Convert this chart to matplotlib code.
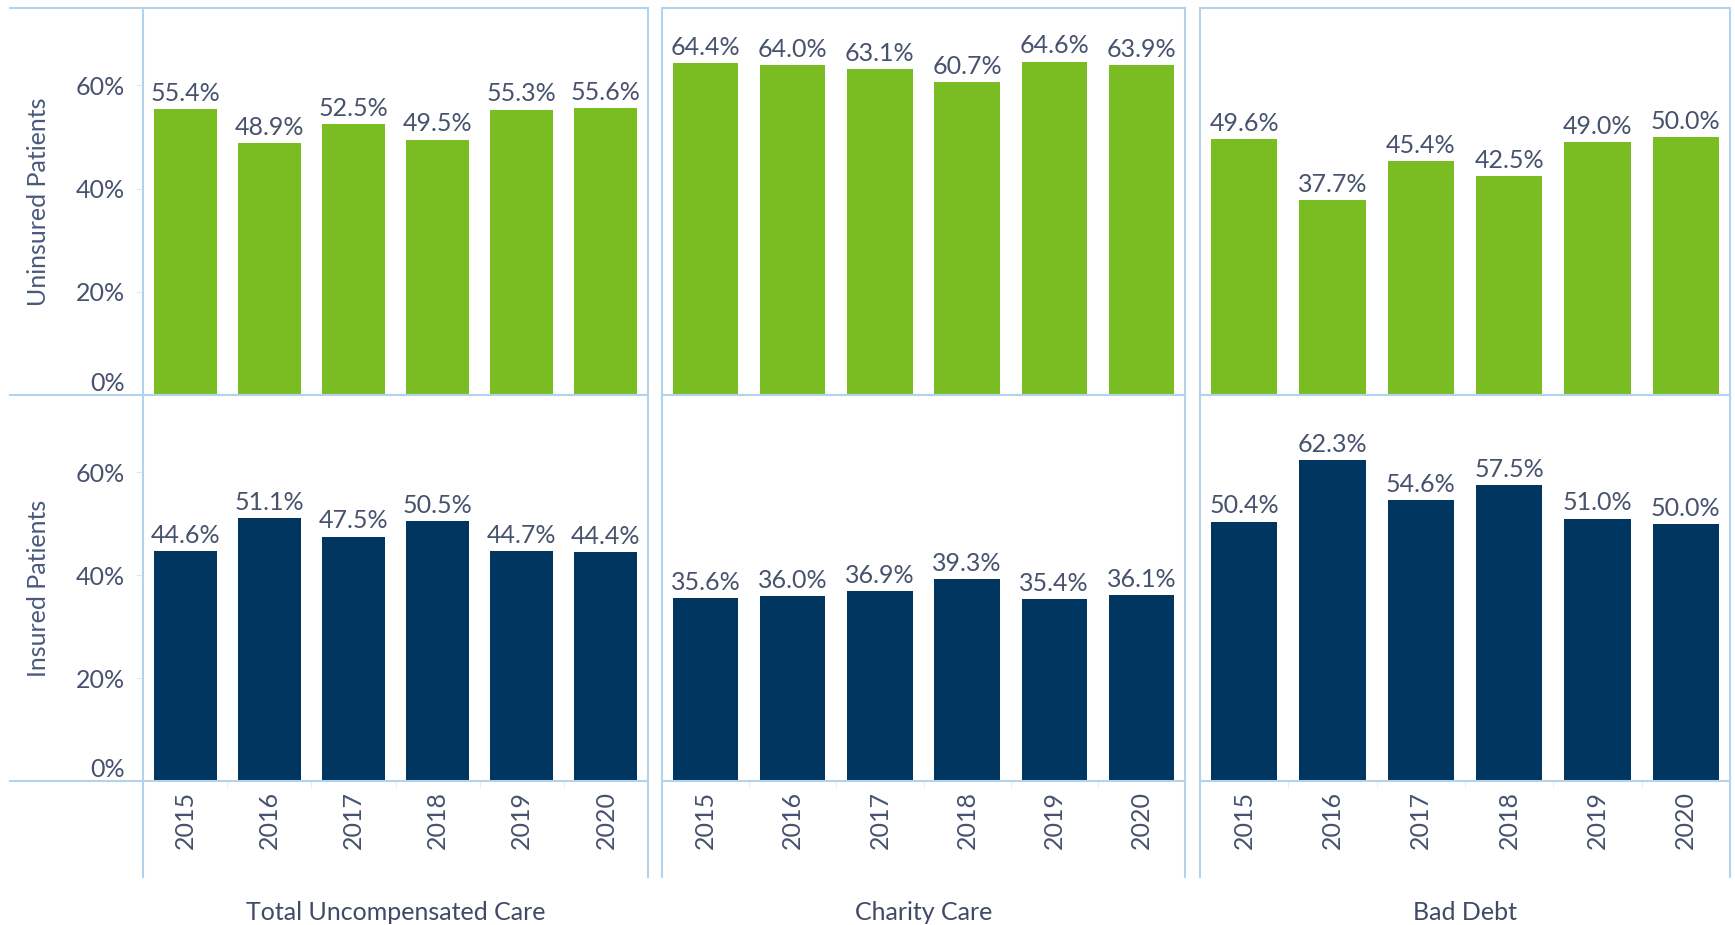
import matplotlib
matplotlib.use("Agg")
import matplotlib.pyplot as plt
from matplotlib.lines import Line2D

plt.rcParams['font.family'] = ['Lato', 'DejaVu Sans']

# ---- data ----
years = ["2015", "2016", "2017", "2018", "2019", "2020"]
categories = ["Total Uncompensated Care", "Charity Care", "Bad Debt"]
row_titles = ["Uninsured Patients", "Insured Patients"]

uninsured_total = [55.4, 48.9, 52.5, 49.5, 55.3, 55.6]
uninsured_charity = [64.4, 64.0, 63.1, 60.7, 64.6, 63.9]
uninsured_bad_debt = [49.6, 37.7, 45.4, 42.5, 49.0, 50.0]

insured_total = [44.6, 51.1, 47.5, 50.5, 44.7, 44.4]
insured_charity = [35.6, 36.0, 36.9, 39.3, 35.4, 36.1]
insured_bad_debt = [50.4, 62.3, 54.6, 57.5, 51.0, 50.0]

y_ticks = [0, 20, 40, 60]

# ---- styling ----
GREEN = "#79bd22"
NAVY = "#003660"
FRAME = "#b3d3ec"
TEXT = "#46526e"
TITLE = "#3e4a66"
FS = 18

W, H = 1735, 925
fig = plt.figure(figsize=(W / 100, H / 100), dpi=100)


def fx(px):
    return px / W


def fy(py):
    return 1 - py / H


panel_x = [(143, 648), (662, 1185), (1200, 1730)]
row_y = [(8, 395), (395, 781)]

rows = [
    ([uninsured_total, uninsured_charity, uninsured_bad_debt], GREEN),
    ([insured_total, insured_charity, insured_bad_debt], NAVY),
]

for r, (series, color) in enumerate(rows):
    y0, y1 = row_y[r]
    for c, vals in enumerate(series):
        x0, x1 = panel_x[c]
        ax = fig.add_axes([fx(x0), fy(y1), (x1 - x0) / W, (y1 - y0) / H])
        xs = list(range(len(years)))
        ax.bar(xs, vals, width=0.75, color=color, zorder=2)
        ax.set_xlim(-0.5, len(years) - 0.5)
        ax.set_ylim(0, 75)
        for v_x, v in zip(xs, vals):
            ax.annotate(f"{v:.1f}%", (v_x, v), xytext=(0, 3),
                        textcoords="offset points", ha="center", va="bottom",
                        fontsize=FS, color=TEXT)
        for s in ax.spines.values():
            s.set_color(FRAME)
            s.set_linewidth(1.5)
        ax.set_yticks(y_ticks)
        if c == 0:
            ax.set_yticklabels([f"{t}%" for t in y_ticks], fontsize=FS, color=TEXT)
            ax.tick_params(axis="y", length=5, color="#e3e8ee", pad=8)
            ax.get_yticklabels()[0].set_va("bottom")
        else:
            ax.set_yticklabels([])
            ax.tick_params(axis="y", length=0)
        ax.set_xticks(xs)
        if r == 1:
            ax.set_xticklabels(years, rotation=90, fontsize=FS, color=TEXT, va="top")
            ax.tick_params(axis="x", length=0, pad=7)
            ax.set_xticks([i + 0.5 for i in xs[:-1]], minor=True)
            ax.tick_params(axis="x", which="minor", length=4, color="#e8e8e8")
        else:
            ax.set_xticklabels([])
            ax.tick_params(axis="x", length=0)
        ax.set_facecolor("white")

# row header titles
for r, title in enumerate(row_titles):
    y0, y1 = row_y[r]
    fig.text(fx(39), fy((y0 + y1) / 2), title, rotation=90, ha="center",
             va="center", fontsize=FS, color="#4a5a7c")

# column header titles
for c, name in enumerate(categories):
    x0, x1 = panel_x[c]
    fig.text(fx((x0 + x1) / 2), fy(912), name, ha="center", va="center",
             fontsize=FS, color=TITLE)

# frame extensions across the header areas
for y in (8, 395, 781):
    fig.add_artist(Line2D([fx(10), fx(143)], [fy(y), fy(y)],
                          transform=fig.transFigure, color=FRAME, lw=1.5))
for x0, x1 in panel_x:
    for x in (x0, x1):
        fig.add_artist(Line2D([fx(x), fx(x)], [fy(781), fy(877)],
                              transform=fig.transFigure, color=FRAME, lw=1.5))

fig.savefig("out.png", dpi=100, facecolor="white")
